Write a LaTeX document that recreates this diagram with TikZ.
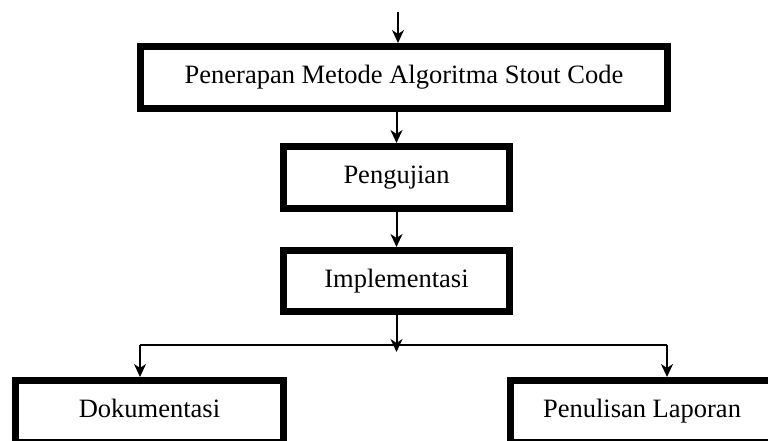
\documentclass[tikz,border=0pt]{standalone}
\usepackage{fontspec}
\setmainfont{Liberation Serif}
\usetikzlibrary{arrows.meta,positioning}

\begin{document}
\begin{tikzpicture}[x=1pt,y=-1pt]
\tikzset{kotak/.style={draw,line width=7pt,inner sep=0pt,minimum height=62pt,
text height=17pt,text depth=5pt,font=\fontsize{26.5}{30}\selectfont}}
\tikzset{panah/.style={line width=2pt,-{Stealth[length=13pt,width=12pt,inset=4pt]}}}
\tikzset{garis/.style={line width=1.5pt}}
\useasboundingbox (0,0) rectangle (768,441);
\clip (0,0) rectangle (768,441);
% alur utama
\node[kotak,minimum width=527pt] (penerapan) at (404,77.5) {Penerapan Metode Algoritma Stout Code};
\node[kotak,minimum width=226pt] (pengujian) at (396.5,177.5) {Pengujian};
\node[kotak,minimum width=226pt,minimum height=61pt] (implementasi) at (396.5,281) {Implementasi};
\node[kotak,minimum width=268pt] (dokumentasi) at (149.5,411.5) {Dokumentasi};
\node[kotak,minimum width=263pt] (laporan) at (642,411.5) {Penulisan Laporan};
\coordinate (awal) at (398,12);
\coordinate (cabang) at (396.5,352);
\coordinate (kiri) at (140,345);
\coordinate (kanan) at (667,345);
\draw[panah] (awal) -- (awal |- penerapan.north);
\draw[panah] (penerapan.south -| pengujian.north) -- (pengujian.north);
\draw[panah] (pengujian) -- (implementasi);
\draw[panah] (implementasi.south) -- (cabang);
% percabangan
\draw[garis] (kiri) -- (kanan);
\draw[panah,line width=1.5pt] (kiri) -- (kiri |- dokumentasi.north);
\draw[panah,line width=1.5pt] (kanan) -- (kanan |- laporan.north);
\end{tikzpicture}
\end{document}
